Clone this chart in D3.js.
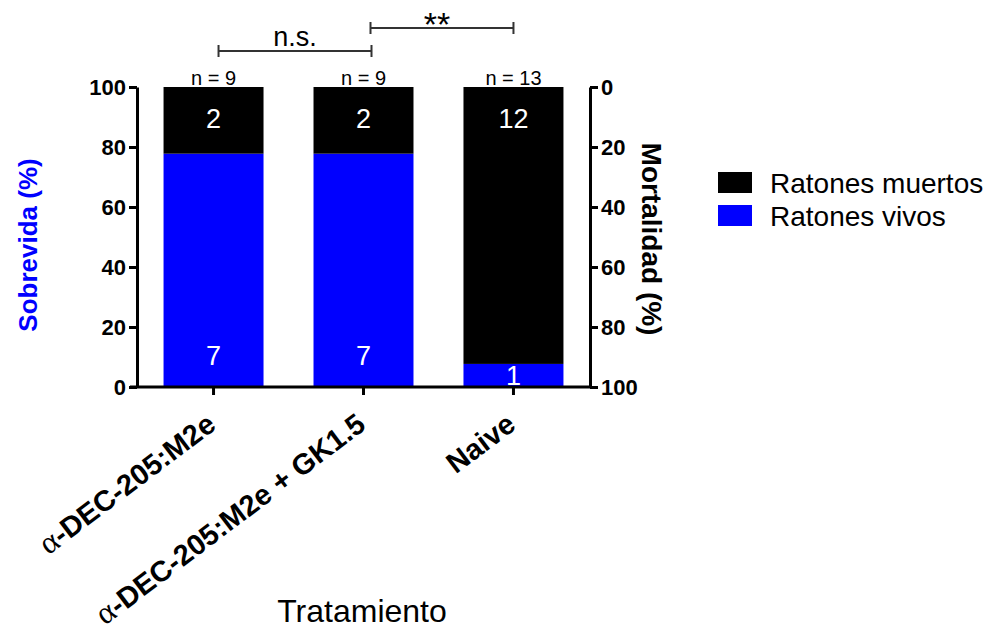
<!DOCTYPE html>
<html>
<head>
<meta charset="utf-8">
<script src="https://cdn.jsdelivr.net/npm/d3@7"></script>
<style>
  body { margin: 0; background: #fff; }
  svg { font-family: "Liberation Sans", Arial, sans-serif; }
</style>
</head>
<body>
<div id="chart"></div>
<script>
// Datos: ratones por grupo
const categories = ["α-DEC-205:M2e", "α-DEC-205:M2e + GK1.5", "Naive"];
const vivos = [7, 7, 1];
const muertos = [2, 2, 12];
const leftTicks = [0, 20, 40, 60, 80, 100];
const rightTicks = [0, 20, 40, 60, 80, 100];
const seriesNames = ["Ratones muertos", "Ratones vivos"];
const comparisons = [
  { from: 0, to: 1, label: "n.s." },
  { from: 1, to: 2, label: "**" }
];

const W = 992, H = 630;
const blue = "#0000ff";

const svg = d3.select("#chart").append("svg")
  .attr("width", W).attr("height", H);

// escalas
const x = d3.scaleBand().domain(categories)
  .range([137, 590]).paddingInner(1 / 3).paddingOuter(0.177);
const y = d3.scaleLinear().domain([0, 100]).range([387, 87]);
const yR = d3.scaleLinear().domain([0, 100]).range([87, 387]);

// datos apilados en %
const rows = categories.map((c, i) => {
  const n = vivos[i] + muertos[i];
  return { cat: c, n: n, vivos: vivos[i] / n * 100, muertos: muertos[i] / n * 100, nv: vivos[i], nm: muertos[i] };
});
const stack = d3.stack().keys(["vivos", "muertos"])(rows);
const colors = { vivos: blue, muertos: "#000" };

svg.append("g").selectAll("g").data(stack).join("g")
  .attr("fill", d => colors[d.key])
  .selectAll("rect").data(d => d).join("rect")
  .attr("x", d => x(d.data.cat))
  .attr("width", x.bandwidth())
  .attr("y", d => y(d[1]))
  .attr("height", d => y(d[0]) - y(d[1]));

// numeros dentro de las barras
const capH = 27 * 0.716;
const lbl = svg.append("g").attr("fill", "#fff").attr("font-size", 27).attr("text-anchor", "middle");
rows.forEach(r => {
  const cx = x(r.cat) + x.bandwidth() / 2;
  const top = y(100), mid = y(r.vivos);
  lbl.append("text").attr("x", cx)
    .attr("y", Math.min(top + 41, (top + mid) / 2 + capH / 2)).text(r.nm);
  lbl.append("text").attr("x", cx)
    .attr("y", Math.max(y(0) - 22, (mid + y(0)) / 2 + capH / 2)).text(r.nv);
});

// n = ...
svg.append("g").attr("font-size", 20).attr("text-anchor", "middle")
  .selectAll("text").data(rows).join("text")
  .attr("x", d => x(d.cat) + x.bandwidth() / 2)
  .attr("y", 85)
  .text(d => "n = " + d.n);

// ejes
const axisStyle = g => {
  g.select(".domain").attr("stroke-width", 3);
  g.selectAll(".tick line").attr("stroke-width", 3);
  g.selectAll(".tick text").attr("font-size", 22).attr("font-weight", "bold").attr("fill", "#000");
};

svg.append("g").attr("transform", "translate(137,0)")
  .call(d3.axisLeft(y).tickValues(leftTicks).tickSize(8).tickSizeOuter(0).tickPadding(3))
  .call(axisStyle)
  .attr("font-family", null);

svg.append("g").attr("transform", "translate(590,0)")
  .call(d3.axisRight(yR).tickValues(rightTicks).tickSize(8).tickSizeOuter(0).tickPadding(3))
  .call(axisStyle)
  .attr("font-family", null);

const xAxis = svg.append("g").attr("transform", "translate(0,387)")
  .call(d3.axisBottom(x).tickSize(8).tickSizeOuter(0))
  .attr("font-family", null);
xAxis.select(".domain").attr("stroke-width", 3).attr("d", "M130,0H592");
xAxis.selectAll(".tick line").attr("stroke-width", 3);
xAxis.selectAll(".tick text").remove();

// etiquetas de categoria rotadas
const catG = svg.append("g").attr("font-size", 29).attr("font-weight", "bold");
categories.forEach(c => {
  const t = catG.append("text")
    .attr("text-anchor", "end")
    .attr("transform", `translate(${x(c) + x.bandwidth() / 2 + 4},428) rotate(-37)`);
  if (c.startsWith("α")) {
    t.append("tspan").attr("font-family", "Liberation Serif, serif").attr("font-weight", "normal")
      .attr("font-size", "1.1em").text("α");
    t.append("tspan").text(c.slice(1));
  } else {
    t.text(c);
  }
});

// titulos de ejes
svg.append("text").attr("transform", "translate(37,245) rotate(-90)")
  .attr("text-anchor", "middle").attr("font-size", 26).attr("font-weight", "bold")
  .attr("fill", blue).text("Sobrevida (%)");
svg.append("text").attr("transform", "translate(642,239) rotate(90)")
  .attr("text-anchor", "middle").attr("font-size", 28).attr("font-weight", "bold")
  .text("Mortalidad (%)");
svg.append("text").attr("x", 362).attr("y", 622)
  .attr("text-anchor", "middle").attr("font-size", 32).text("Tratamiento");

// comparaciones
const cxOf = i => x(categories[i]) + x.bandwidth() / 2;
const brG = svg.append("g").attr("stroke", "#333").attr("stroke-width", 2).attr("fill", "none");
const lvlY = [51, 28];
const lvlOff = [[5, 8], [7, 0]];
comparisons.forEach((c, k) => {
  const x1 = cxOf(c.from) + lvlOff[k][0];
  const x2 = cxOf(c.to) + lvlOff[k][1];
  const yy = lvlY[k];
  brG.append("path").attr("d", `M${x1},${yy - 6}V${yy + 6}M${x1},${yy}H${x2}M${x2},${yy - 6}V${yy + 6}`);
  svg.append("text").attr("x", (x1 + x2) / 2 - (k === 0 ? 0 : 5)).attr("y", k === 0 ? 46 : 36)
    .attr("text-anchor", "middle")
    .attr("font-size", k === 0 ? 27 : 34).text(c.label);
});

// leyenda
const leg = svg.append("g").attr("transform", "translate(718,172)");
seriesNames.forEach((s, i) => {
  leg.append("rect").attr("x", 0).attr("y", i * 33).attr("width", 34).attr("height", 21)
    .attr("fill", i === 0 ? "#000" : blue);
  leg.append("text").attr("x", 52).attr("y", i * 33 + 21).attr("font-size", 28).text(s);
});
</script>
</body>
</html>
